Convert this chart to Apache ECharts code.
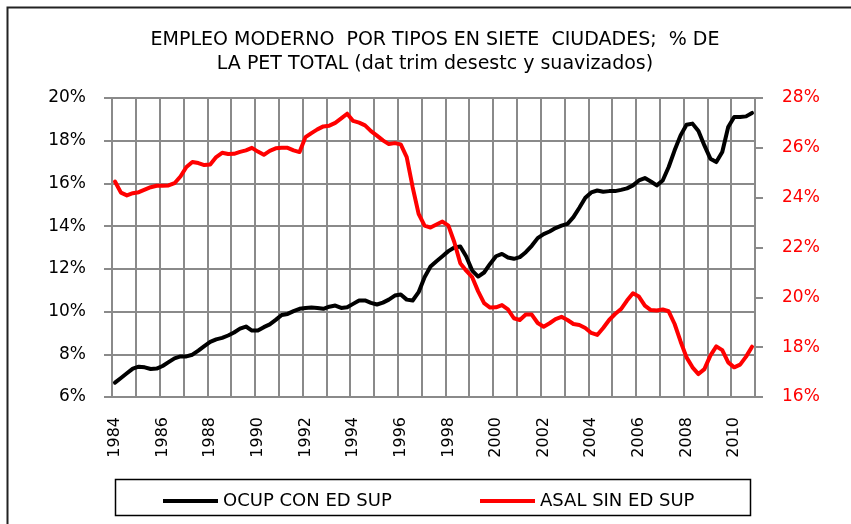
<!DOCTYPE html>
<html>
<head>
<meta charset="utf-8">
<script src="https://cdn.jsdelivr.net/npm/echarts@6/dist/echarts.min.js"></script>
<style>
  html, body { margin: 0; padding: 0; background: #fff; }
  #chart { width: 851px; height: 524px; }
</style>
</head>
<body>
<div id="chart"></div>
<script>
// quarterly series, 1984Q1 - 2010Q4
var years = [1984, 1985, 1986, 1987, 1988, 1989, 1990, 1991, 1992, 1993, 1994, 1995, 1996, 1997,
  1998, 1999, 2000, 2001, 2002, 2003, 2004, 2005, 2006, 2007, 2008, 2009, 2010];
var quarters = [1, 2, 3, 4];

// OCUP CON ED SUP (% , left axis)
var ocupConEdSup = [
  6.67, 6.89, 7.11, 7.33, 7.42, 7.39, 7.31, 7.33, 7.45, 7.63, 7.81, 7.90,
  7.90, 7.98, 8.17, 8.38, 8.58, 8.70, 8.77, 8.88, 9.02, 9.20, 9.30, 9.11,
  9.11, 9.27, 9.40, 9.61, 9.84, 9.89, 10.02, 10.13, 10.17, 10.19, 10.17, 10.13,
  10.23, 10.28, 10.17, 10.20, 10.36, 10.52, 10.52, 10.41, 10.33, 10.42, 10.56, 10.75,
  10.80, 10.56, 10.52, 10.91, 11.61, 12.11, 12.36, 12.59, 12.83, 13.00, 13.05, 12.58,
  11.92, 11.64, 11.83, 12.23, 12.59, 12.70, 12.53, 12.47, 12.55, 12.78, 13.08, 13.44,
  13.63, 13.75, 13.91, 14.02, 14.11, 14.42, 14.86, 15.33, 15.58, 15.67, 15.61, 15.64,
  15.64, 15.70, 15.77, 15.91, 16.14, 16.25, 16.09, 15.91, 16.14, 16.77, 17.55, 18.25,
  18.75, 18.80, 18.45, 17.78, 17.16, 17.00, 17.47, 18.64, 19.11, 19.11, 19.14, 19.30
];

// ASAL SIN ED SUP (%, right axis)
var asalSinEdSup = [
  24.65, 24.20, 24.09, 24.18, 24.22, 24.32, 24.42, 24.48, 24.48, 24.49, 24.58, 24.85,
  25.23, 25.43, 25.39, 25.31, 25.33, 25.63, 25.80, 25.75, 25.76, 25.84, 25.90, 26.00,
  25.85, 25.72, 25.88, 25.98, 26.00, 26.00, 25.90, 25.83, 26.43, 26.59, 26.74, 26.86,
  26.89, 27.00, 27.18, 27.37, 27.08, 27.01, 26.90, 26.67, 26.49, 26.30, 26.15, 26.19,
  26.14, 25.63, 24.42, 23.35, 22.88, 22.80, 22.92, 23.04, 22.88, 22.21, 21.37, 21.07,
  20.81, 20.24, 19.77, 19.59, 19.60, 19.69, 19.52, 19.16, 19.09, 19.31, 19.31, 18.97,
  18.82, 18.96, 19.13, 19.22, 19.09, 18.93, 18.89, 18.77, 18.57, 18.49, 18.77, 19.09,
  19.33, 19.53, 19.87, 20.16, 20.03, 19.67, 19.49, 19.47, 19.51, 19.44, 18.93, 18.23,
  17.59, 17.19, 16.92, 17.12, 17.66, 18.03, 17.88, 17.39, 17.19, 17.30, 17.62, 18.02
];

var categories = [];
for (var i = 0; i < years.length; i++) {
  for (var q = 0; q < quarters.length; q++) {
    categories.push(years[i] + '-' + quarters[q]);
  }
}

var font = 'DejaVu Sans';
var gridColor = '#8a8a8a';

var chartDom = document.getElementById('chart');
var myChart = echarts.init(chartDom);
var option;

option = {
  animation: false,
  backgroundColor: '#fff',
  title: {
    text: 'EMPLEO MODERNO  POR TIPOS EN SIETE  CIUDADES;  % DE\nLA PET TOTAL (dat trim desestc y suavizados)',
    left: 430,
    top: 23,
    textAlign: 'center',
    textStyle: {
      fontFamily: font,
      fontSize: 19,
      fontWeight: 'normal',
      color: '#000',
      lineHeight: 24
    }
  },
  graphic: [
    {
      type: 'rect',
      shape: { x: 7.5, y: 7.5, width: 1000, height: 1000 },
      style: { fill: 'none', stroke: '#222', lineWidth: 2 },
      silent: true
    },
    {
      type: 'rect',
      shape: { x: 115.5, y: 479.5, width: 635, height: 36 },
      style: { fill: 'none', stroke: '#000', lineWidth: 1.5 },
      silent: true
    }
  ],
  legend: [
    {
      left: 158,
      top: 487,
      icon: 'rect',
      itemWidth: 55,
      itemHeight: 4,
      data: ['OCUP CON ED SUP'],
      textStyle: { fontFamily: font, fontSize: 18, color: '#000' }
    },
    {
      left: 475,
      top: 487,
      icon: 'rect',
      itemWidth: 55,
      itemHeight: 4,
      data: ['ASAL SIN ED SUP'],
      textStyle: { fontFamily: font, fontSize: 18, color: '#000' }
    }
  ],
  grid: {
    left: 112,
    right: 96,
    top: 98,
    bottom: 127
  },
  xAxis: {
    type: 'category',
    data: categories,
    boundaryGap: true,
    axisLine: { lineStyle: { color: gridColor, width: 2 } },
    axisTick: { interval: 3, length: 8, lineStyle: { color: gridColor, width: 2 } },
    splitLine: { show: true, interval: 3, lineStyle: { color: gridColor, width: 2 } },
    axisLabel: {
      interval: 7,
      rotate: 90,
      margin: 20,
      fontFamily: font,
      fontSize: 16,
      color: '#000',
      formatter: function (v) { return v.split('-')[0]; }
    }
  },
  yAxis: [
    {
      type: 'value',
      min: 6,
      max: 20,
      interval: 2,
      axisLine: { show: true, lineStyle: { color: gridColor, width: 2 } },
      axisTick: { show: true, length: 8, lineStyle: { color: gridColor, width: 2 } },
      splitLine: { show: true, lineStyle: { color: gridColor, width: 2 } },
      axisLabel: {
        margin: 26,
        fontFamily: font,
        fontSize: 17,
        color: '#000',
        formatter: '{value}%'
      }
    },
    {
      type: 'value',
      min: 16,
      max: 28,
      interval: 2,
      position: 'right',
      axisLine: { show: true, lineStyle: { color: gridColor, width: 2 } },
      axisTick: { show: true, length: 8, lineStyle: { color: gridColor, width: 2 } },
      splitLine: { show: false },
      axisLabel: {
        margin: 27,
        fontFamily: font,
        fontSize: 17,
        color: '#ff0000',
        formatter: '{value}%'
      }
    }
  ],
  series: [
    {
      name: 'OCUP CON ED SUP',
      type: 'line',
      yAxisIndex: 0,
      data: ocupConEdSup,
      symbol: 'none',
      color: '#000',
      lineStyle: { width: 4, color: '#000', join: 'round', cap: 'round' }
    },
    {
      name: 'ASAL SIN ED SUP',
      type: 'line',
      yAxisIndex: 1,
      data: asalSinEdSup,
      symbol: 'none',
      color: '#ff0000',
      lineStyle: { width: 4, color: '#ff0000', join: 'round', cap: 'round' }
    }
  ]
};

option && myChart.setOption(option);
</script>
</body>
</html>
